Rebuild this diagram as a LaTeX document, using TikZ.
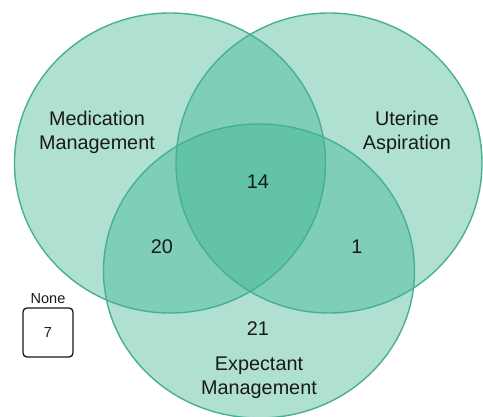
\documentclass[tikz,border=0pt]{standalone}
\usepackage{fontspec}
\setmainfont{Liberation Sans}
\definecolor{vennfill}{RGB}{55,178,142}
\definecolor{vennline}{RGB}{72,176,146}
\definecolor{txt}{RGB}{25,25,25}
\tikzset{
  setfill/.style={fill=vennfill, fill opacity=0.4},
  setline/.style={draw=vennline, line width=1.4pt},
  lbl/.style={text=txt, font=\fontsize{19.8}{24}\selectfont, align=center, inner sep=0pt},
  small/.style={text=txt, font=\fontsize{14.5}{17}\selectfont, inner sep=0pt},
  nonebox/.style={draw=txt, line width=1.3pt, rounded corners=4pt, minimum width=50pt, minimum height=49pt, inner sep=0pt}
}
\begin{document}
\begin{tikzpicture}[x=1pt,y=-1pt]
\useasboundingbox (0,0) rectangle (483,417);
\coordinate (cM) at (170,163);
\coordinate (cU) at (329,163);
\coordinate (cE) at (259,271);
\fill[setfill] (cM) ellipse [x radius=155.5, y radius=150];
\fill[setfill] (cU) ellipse [x radius=153, y radius=150];
\fill[setfill] (cE) ellipse [x radius=155.5, y radius=147];
\draw[setline] (cM) ellipse [x radius=155.5, y radius=150];
\draw[setline] (cU) ellipse [x radius=153, y radius=150];
\draw[setline] (cE) ellipse [x radius=155.5, y radius=147];
\node[lbl] (med) at (97,132) {Medication\\Management};
\node[lbl] (ute) at (407,132) {Uterine\\Aspiration};
\node[lbl] (exp) at (259,378) {Expectant\\Management};
\node[lbl] (n14) at (258,182) {14};
\node[lbl] (n20) at (162,247) {20};
\node[lbl] (n1) at (357,247) {1};
\node[lbl] (n21) at (258,329) {21};
\node[small] (none) at (48,299) {None};
\node[nonebox] (box) at (48,332.5) {};
\node[small] (n7) at (box.center) {7};
\end{tikzpicture}
\end{document}
